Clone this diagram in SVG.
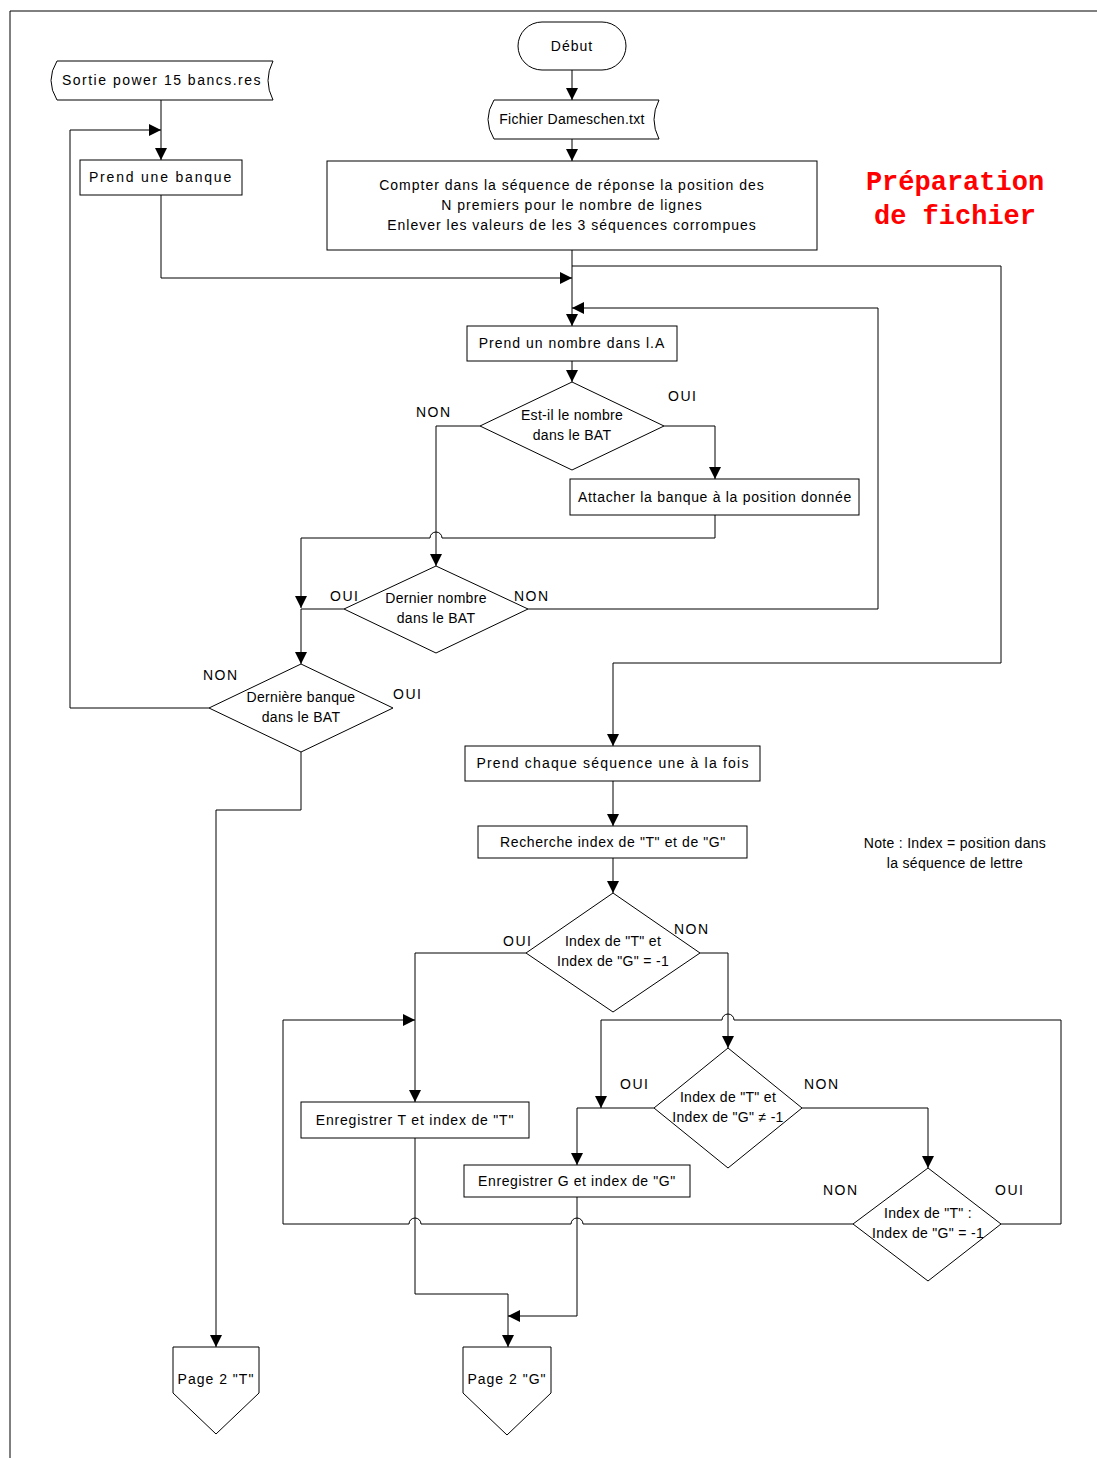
<svg xmlns="http://www.w3.org/2000/svg" width="1097" height="1458" viewBox="0 0 1097 1458">
  <style>
    .shape { fill: #ffffff; stroke: #000000; stroke-width: 1; }
    .line { fill: none; stroke: #000000; stroke-width: 1; }
    .t { font-family: "Liberation Sans", Arial, sans-serif; font-size: 14px; letter-spacing: 1px; fill: #000000; text-anchor: middle; }
    .tn { letter-spacing: 0.3px; }
    .lbl { font-family: "Liberation Sans", Arial, sans-serif; font-size: 14px; letter-spacing: 1.5px; fill: #000000; }
    .title { font-family: "Liberation Mono", "Courier New", monospace; font-size: 27px; font-weight: bold; fill: #ff0000; text-anchor: middle; }
  </style>
  <defs>
    <marker id="arrow" viewBox="0 0 10 10" refX="10" refY="5" markerWidth="12" markerHeight="12" markerUnits="userSpaceOnUse" orient="auto">
      <path d="M0,0 L10,5 L0,10 z" fill="#000000"/>
    </marker>
  </defs>

  <rect width="1097" height="1458" fill="#ffffff"/>
  <!-- page frame -->
  <path class="line" d="M1097,11 H10 V1458"/>

  <!-- connectors -->
  <g id="connectors">
    <path class="line" d="M572,70 V100" marker-end="url(#arrow)"/>
    <path class="line" d="M572,139 V161" marker-end="url(#arrow)"/>
    <path class="line" d="M572,250 V326" marker-end="url(#arrow)"/>
    <path class="line" d="M161,100 V160" marker-end="url(#arrow)"/>
    <path class="line" d="M161,195 V278 H572" marker-end="url(#arrow)"/>
    <path class="line" d="M572,266 H1001 V663 H613 V746" marker-end="url(#arrow)"/>
    <path class="line" d="M528,609 H878 V308 H572" marker-end="url(#arrow)"/>
    <path class="line" d="M572,361 V382" marker-end="url(#arrow)"/>
    <path class="line" d="M664,426 H715 V479" marker-end="url(#arrow)"/>
    <path class="line" d="M480,426 H436 V566" marker-end="url(#arrow)"/>
    <path class="line" d="M715,515 V538 H442 A6,6 0 0 0 430,538 H301 V608" marker-end="url(#arrow)"/>
    <path class="line" d="M344,609 H301 V664" marker-end="url(#arrow)"/>
    <path class="line" d="M209,708 H70 V130 H161" marker-end="url(#arrow)"/>
    <path class="line" d="M301,752 V810 H216 V1347" marker-end="url(#arrow)"/>
    <path class="line" d="M613,781 V826" marker-end="url(#arrow)"/>
    <path class="line" d="M613,858 V893" marker-end="url(#arrow)"/>
    <path class="line" d="M526,953 H415 V1102" marker-end="url(#arrow)"/>
    <path class="line" d="M700,953 H728 V1048" marker-end="url(#arrow)"/>
    <path class="line" d="M1001,1224 H1061 V1020 H734 A6,6 0 0 0 722,1020 H601 V1108" marker-end="url(#arrow)"/>
    <path class="line" d="M654,1108 H577 V1165" marker-end="url(#arrow)"/>
    <path class="line" d="M802,1108 H928 V1168" marker-end="url(#arrow)"/>
    <path class="line" d="M853,1224 H583 A6,6 0 0 0 571,1224 H421 A6,6 0 0 0 409,1224 H283 V1020 H415" marker-end="url(#arrow)"/>
    <path class="line" d="M415,1138 V1294 H508 V1347" marker-end="url(#arrow)"/>
    <path class="line" d="M577,1197 V1316 H508" marker-end="url(#arrow)"/>
  </g>

  <!-- branch labels -->
  <g id="labels">
    <text class="lbl" x="668" y="401">OUI</text>
    <text class="lbl" x="416" y="417">NON</text>
    <text class="lbl" x="330" y="601">OUI</text>
    <text class="lbl" x="514" y="601">NON</text>
    <text class="lbl" x="203" y="680">NON</text>
    <text class="lbl" x="393" y="699">OUI</text>
    <text class="lbl" x="503" y="946">OUI</text>
    <text class="lbl" x="674" y="934">NON</text>
    <text class="lbl" x="620" y="1089">OUI</text>
    <text class="lbl" x="804" y="1089">NON</text>
    <text class="lbl" x="823" y="1195">NON</text>
    <text class="lbl" x="995" y="1195">OUI</text>
  </g>

  <g id="debut">
    <rect class="shape" x="518" y="22" width="108" height="48" rx="24" ry="24"/>
    <text class="t" x="572" y="51">Début</text>
  </g>

  <g id="fichier">
    <path class="shape" d="M494,100 H659 Q649,119.5 659,139 H494 Q482,119.5 494,100 z"/>
    <text class="t tn" x="572" y="124">Fichier Dameschen.txt</text>
  </g>

  <g id="compter">
    <rect class="shape" x="327" y="161" width="490" height="89"/>
    <text class="t" x="572" y="190">Compter dans la séquence de réponse la position des</text>
    <text class="t" x="572" y="210">N premiers pour le nombre de lignes</text>
    <text class="t" x="572" y="230">Enlever les valeurs de les 3 séquences corrompues</text>
  </g>

  <g id="titre">
    <text class="title" x="955" y="190">Préparation</text>
    <text class="title" x="955" y="224">de fichier</text>
  </g>

  <g id="sortie">
    <path class="shape" d="M57,61 H273 Q263,80.5 273,100 H57 Q45,80.5 57,61 z"/>
    <text class="t" x="162" y="85" style="letter-spacing:1.5px">Sortie power 15 bancs.res</text>
  </g>

  <g id="prend-banque">
    <rect class="shape" x="80" y="160" width="162" height="35"/>
    <text class="t" x="161" y="182" style="letter-spacing:1.8px">Prend une banque</text>
  </g>

  <g id="prend-nombre">
    <rect class="shape" x="467" y="326" width="210" height="35"/>
    <text class="t" x="572" y="348">Prend un nombre dans l.A</text>
  </g>

  <g id="test-nombre">
    <polygon class="shape" points="572,382 664,426 572,470 480,426"/>
    <text class="t tn" x="572" y="420">Est-il le nombre</text>
    <text class="t tn" x="572" y="440">dans le BAT</text>
  </g>

  <g id="attacher">
    <rect class="shape" x="570" y="479" width="289" height="36"/>
    <text class="t" x="715" y="502" style="letter-spacing:0.7px">Attacher la banque à la position donnée</text>
  </g>

  <g id="dernier-nombre">
    <polygon class="shape" points="436,566 528,609 436,653 344,609"/>
    <text class="t tn" x="436" y="603">Dernier nombre</text>
    <text class="t tn" x="436" y="623">dans le BAT</text>
  </g>

  <g id="derniere-banque">
    <polygon class="shape" points="301,664 393,708 301,752 209,708"/>
    <text class="t tn" x="301" y="702">Dernière banque</text>
    <text class="t tn" x="301" y="722">dans le BAT</text>
  </g>

  <g id="prend-sequence">
    <rect class="shape" x="465" y="746" width="295" height="35"/>
    <text class="t" x="613" y="768" style="letter-spacing:1.2px">Prend chaque séquence une à la fois</text>
  </g>

  <g id="recherche">
    <rect class="shape" x="478" y="826" width="269" height="32"/>
    <text class="t" x="613" y="847" style="letter-spacing:0.6px">Recherche index de "T" et de "G"</text>
  </g>

  <g id="note">
    <text class="t tn" x="955" y="848">Note : Index = position dans</text>
    <text class="t tn" x="955" y="868">la séquence de lettre</text>
  </g>

  <g id="test-index-1">
    <polygon class="shape" points="613,893 700,953 613,1012 526,953"/>
    <text class="t tn" x="613" y="946">Index de "T" et</text>
    <text class="t tn" x="613" y="966">Index de "G" = -1</text>
  </g>

  <g id="enregistrer-t">
    <rect class="shape" x="301" y="1102" width="228" height="36"/>
    <text class="t" x="415" y="1125" style="letter-spacing:0.8px">Enregistrer T et index de "T"</text>
  </g>

  <g id="test-index-2">
    <polygon class="shape" points="728,1048 802,1108 728,1168 654,1108"/>
    <text class="t tn" x="728" y="1102">Index de "T" et</text>
    <text class="t tn" x="728" y="1122">Index de "G" ≠ -1</text>
  </g>

  <g id="enregistrer-g">
    <rect class="shape" x="464" y="1165" width="226" height="32"/>
    <text class="t" x="577" y="1186" style="letter-spacing:0.6px">Enregistrer G et index de "G"</text>
  </g>

  <g id="test-index-3">
    <polygon class="shape" points="928,1168 1001,1224 928,1281 853,1224"/>
    <text class="t tn" x="928" y="1218">Index de "T" :</text>
    <text class="t tn" x="928" y="1238">Index de "G" = -1</text>
  </g>

  <g id="page-1">
    <polygon class="shape" points="173,1347 259,1347 259,1393 216,1434 173,1393"/>
    <text class="t" x="216" y="1384">Page 2 "T"</text>
  </g>

  <g id="page-2">
    <polygon class="shape" points="463,1347 551,1347 551,1393 507,1435 463,1393"/>
    <text class="t" x="507" y="1384">Page 2 "G"</text>
  </g>
</svg>
